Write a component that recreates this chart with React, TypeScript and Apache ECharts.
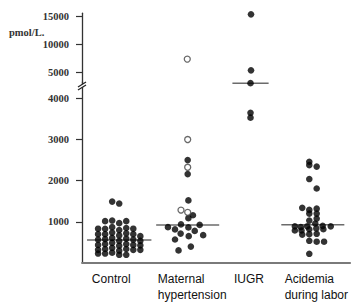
import React, { useEffect, useRef } from "react";
import * as echarts from "echarts";

// ---- data (pmol/L) ----
const categories = ["Control", "Maternal\nhypertension", "IUGR", "Acidemia\nduring labor"];

// Control: values and horizontal slot (column) of each dot
const controlValues = [
  833, 700, 570, 440, 320, 230,
  1016, 830, 700, 580, 460, 340, 230,
  1032, 870, 740, 610, 490, 370, 250, 1493,
  968, 800, 670, 540, 420, 300, 200, 1445,
  1016, 850, 720, 590, 460, 340, 200,
  833, 700, 570, 440, 320,
  652, 540, 430, 320,
];
const controlSlots = [
  -3, -3, -3, -3, -3, -3,
  -2, -2, -2, -2, -2, -2, -2,
  -1, -1, -1, -1, -1, -1, -1, -1,
  0, 0, 0, 0, 0, 0, 0, 0,
  1, 1, 1, 1, 1, 1, 1,
  2, 2, 2, 2, 2,
  3, 3, 3, 3,
];

// Maternal hypertension: filled and open dots
const hypertensionValues = [2500, 2160, 1520, 1160, 1090, 870, 815, 938, 865, 925, 571, 714, 652, 780, 676, 305, 398];
const hypertensionSlots = [0, 0, 0.1, 0.75, 0.1, -2.8, -1.8, -0.95, 0.1, 1.7, -1.8, -1, 0.15, 1, 2.2, -1.3, 0.45];
const hypertensionOpenValues = [7300, 3000, 2326, 1286, 1231];
const hypertensionOpenSlots = [-0.1, 0, 0, -0.95, 0];

// IUGR
const iugrValues = [15300, 5300, 4370, 3650, 3530];
const iugrSlots = [0, 0, 0, 0, 0];

// Acidemia during labor
const acidemiaValues = [
  2460, 2380, 2343, 2040, 1810, 1340, 1290, 1320, 1200, 1200, 1080, 1030,
  890, 874, 890, 960, 900, 890, 790, 790, 820, 840, 820, 690, 700, 710, 540, 517, 517, 224,
];
const acidemiaSlots = [
  -0.5, -0.5, 0.55, -0.5, 0.55, -1.5, -0.5, 0.55, -0.5, 0.55, 0.55, -0.5,
  -2.55, -1.7, -0.8, 0.35, 1.4, 2.55, -2.55, -1.6, -0.5, 0.5, 1.5, -1.5, -0.5, 0.55, -0.5, 0.55, 1.6, -0.5,
];

const medians = [557, 925, 4370, 929];

const lowerTicks = [1000, 2000, 3000, 4000];
const upperTicks = [5000, 10000, 15000];

// ---- layout ----
const GROUP_CENTER = [0.555, 1.576, 2.513, 3.442];
const MEDIAN_HALF = [0.48, 0.47, 0.27, 0.47];
const DOT_STEP = 0.105;
const LOWER_MAX = 4400;
const UPPER_MIN = 3000;
const UPPER_MAX = 15500;

type Pt = [number, number];

function points(g: number, values: number[], slots: number[]): Pt[] {
  return values.map((v, i) => [GROUP_CENTER[g] + slots[i] * DOT_STEP, v] as Pt);
}

const filledPts: Pt[] = [
  ...points(0, controlValues, controlSlots),
  ...points(1, hypertensionValues, hypertensionSlots),
  ...points(2, iugrValues, iugrSlots),
  ...points(3, acidemiaValues, acidemiaSlots),
];
const openPts: Pt[] = points(1, hypertensionOpenValues, hypertensionOpenSlots);

const isLower = (p: Pt) => p[1] <= LOWER_MAX;

const serifLabel = {
  fontFamily: "Liberation Serif",
  fontSize: 10.5,
  fontWeight: "bold" as const,
  color: "#333",
  formatter: (v: number) => String(v),
};

const catFont = { fontFamily: "Liberation Sans", fontSize: 12, color: "#111", lineHeight: 16 };

export default function App() {
  const ref = useRef<HTMLDivElement>(null);
  useEffect(() => {
    if (!ref.current) return;
    const chart = echarts.init(ref.current, null, { renderer: "svg" });

    const filledStyle = { color: "#000" };
    const openStyle = { color: "#fff", borderColor: "#444", borderWidth: 1.3 };

    const medianSeries = medians.map((m, g) => ({
      type: "line",
      xAxisIndex: m <= LOWER_MAX ? 1 : 0,
      yAxisIndex: m <= LOWER_MAX ? 1 : 0,
      data: [
        [GROUP_CENTER[g] - MEDIAN_HALF[g], m],
        [GROUP_CENTER[g] + MEDIAN_HALF[g], m],
      ],
      symbol: "none",
      lineStyle: { color: "#6b6b6b", width: 1.5 },
      z: 1,
      silent: true,
    }));

    const yAxisCommon = {
      type: "value",
      axisLine: { show: true, lineStyle: { color: "#333", width: 1.3 } },
      axisTick: { show: true, length: 6, lineStyle: { color: "#333", width: 1.2 } },
      splitLine: { show: false },
    };

    chart.setOption({
      animation: false,
      backgroundColor: "#fff",
      grid: [
        { left: 82, top: 13.2, width: 269, height: 70 },
        { left: 82, top: 81.9, width: 269, height: 184.8 },
      ],
      xAxis: [
        { type: "value", gridIndex: 0, min: 0, max: 4, show: false },
        {
          type: "value",
          gridIndex: 1,
          min: 0,
          max: 4,
          axisLine: { show: true, lineStyle: { color: "#7a7a7a", width: 1.8 } },
          axisTick: { show: false },
          splitLine: { show: false },
          axisLabel: {
            customValues: GROUP_CENTER,
            margin: 8,
            verticalAlign: "top",
            ...catFont,
            formatter: (value: number) => {
              const g = GROUP_CENTER.findIndex((c) => Math.abs(c - value) < 1e-6);
              if (g < 0) return "";
              return categories[g]
                .split("\n")
                .map((l) => `{g${g}|${l}}`)
                .join("\n");
            },
            rich: {
              g0: { ...catFont, padding: [0, 16, 0, 0] },
              g1: { ...catFont, align: "left", padding: [0, 0, 0, 9] },
              g2: { ...catFont, padding: [0, 3, 0, 0] },
              g3: { ...catFont, align: "left", padding: [0, 0, 0, 7] },
            },
          },
        },
      ],
      yAxis: [
        {
          ...yAxisCommon,
          gridIndex: 0,
          min: UPPER_MIN,
          max: UPPER_MAX,
          axisTick: { ...yAxisCommon.axisTick, customValues: upperTicks },
          axisLabel: { ...serifLabel, margin: 13, customValues: upperTicks },
        },
        {
          ...yAxisCommon,
          gridIndex: 1,
          min: 0,
          max: LOWER_MAX,
          axisTick: { ...yAxisCommon.axisTick, customValues: lowerTicks },
          axisLabel: { ...serifLabel, margin: 13, customValues: lowerTicks },
        },
      ],
      series: [
        ...medianSeries,
        {
          type: "scatter",
          xAxisIndex: 1,
          yAxisIndex: 1,
          data: filledPts.filter(isLower),
          symbol: "circle",
          symbolSize: 6.6,
          itemStyle: filledStyle,
          z: 3,
        },
        {
          type: "scatter",
          xAxisIndex: 0,
          yAxisIndex: 0,
          data: filledPts.filter((p) => !isLower(p)),
          symbol: "circle",
          symbolSize: 6.6,
          itemStyle: filledStyle,
          z: 3,
        },
        {
          type: "scatter",
          xAxisIndex: 1,
          yAxisIndex: 1,
          data: openPts.filter(isLower),
          symbol: "circle",
          symbolSize: 6,
          itemStyle: openStyle,
          z: 4,
        },
        {
          type: "scatter",
          xAxisIndex: 0,
          yAxisIndex: 0,
          data: openPts.filter((p) => !isLower(p)),
          symbol: "circle",
          symbolSize: 6,
          itemStyle: openStyle,
          z: 4,
        },
      ],
      graphic: [
        {
          type: "text",
          left: 9,
          top: 27,
          style: {
            text: "pmol/L.",
            fontFamily: "Liberation Serif",
            fontSize: 10.5,
            fontWeight: "bold",
            fill: "#333",
          },
        },
        {
          type: "polygon",
          z: 100,
          shape: { points: [[78, 87], [86, 82], [86, 85], [78, 90]] },
          style: { fill: "#fff" },
        },
        {
          type: "line",
          z: 101,
          shape: { x1: 78, y1: 87, x2: 86, y2: 82 },
          style: { stroke: "#222", lineWidth: 1.3 },
        },
        {
          type: "line",
          z: 101,
          shape: { x1: 78, y1: 90, x2: 86, y2: 85 },
          style: { stroke: "#222", lineWidth: 1.3 },
        },
      ],
    });

    return () => chart.dispose();
  }, []);

  return (
    <div
      ref={ref}
      style={{ position: "fixed", left: 0, top: 0, width: 351, height: 303, background: "#fff" }}
    />
  );
}
